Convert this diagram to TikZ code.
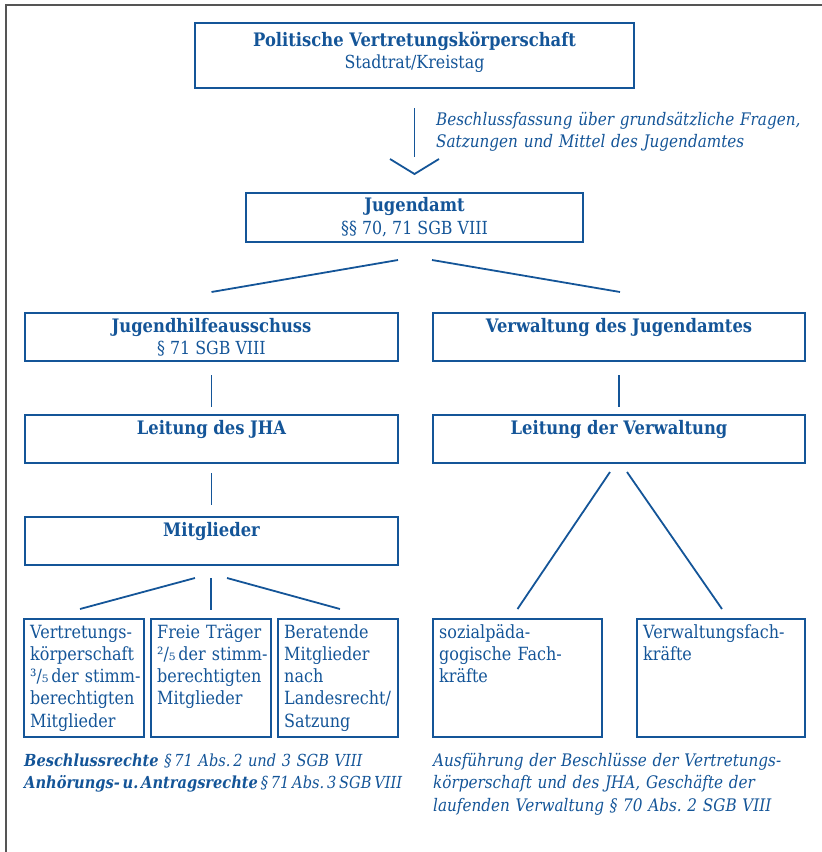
\documentclass[tikz,border=0pt]{standalone}
\usepackage{fontspec}
\setmainfont{DejaVu Serif}[FakeStretch=0.88]
\definecolor{jblue}{RGB}{20,85,152}
\definecolor{framegray}{RGB}{85,85,85}
\frenchspacing
\begin{document}
\begin{tikzpicture}[x=1pt,y=-1pt,
  box/.style={draw=jblue, line width=1.8pt, inner sep=0pt, outer sep=0pt},
  conn/.style={draw=jblue, line width=1.8pt},
  txt/.style={text=jblue, inner sep=0pt},
  ttl/.style={txt, font=\bfseries\fontsize{18.6}{22}\selectfont, anchor=base},
  sub/.style={txt, font=\fontsize{18}{22}\selectfont, anchor=base},
  small/.style={txt, font=\fontsize{18.2}{22.3}\selectfont, anchor=base west, align=left, text width=160pt},
  ann/.style={txt, font=\itshape\fontsize{17.3}{22.6}\selectfont, anchor=base west, align=left, text width=400pt},
  annl/.style={txt, font=\itshape\fontsize{16.6}{22}\selectfont, anchor=base west, align=left, text width=400pt}
]
\useasboundingbox (0,0) rectangle (822,852);
% frame
\draw[framegray, line width=1.6pt] (822,5) -- (6,5) -- (6,852);

% boxes
\node[box, minimum width=439pt, minimum height=65pt] (pol) at (414.5,55.5) {};
\node[box, minimum width=337pt, minimum height=49pt] (ja) at (414.5,217.5) {};
\node[box, minimum width=373pt, minimum height=48pt] (jha) at (211.5,337) {};
\node[box, minimum width=372pt, minimum height=48pt] (vw) at (619,337) {};
\node[box, minimum width=373pt, minimum height=48pt] (ljha) at (211.5,439) {};
\node[box, minimum width=372pt, minimum height=48pt] (lvw) at (619,439) {};
\node[box, minimum width=373pt, minimum height=48pt] (mit) at (211.5,541) {};
\node[box, minimum width=120pt, minimum height=118pt] (s1) at (84,678) {};
\node[box, minimum width=120pt, minimum height=118pt] (s2) at (211,678) {};
\node[box, minimum width=120pt, minimum height=118pt] (s3) at (338,678) {};
\node[box, minimum width=169pt, minimum height=118pt] (s4) at (517.5,678) {};
\node[box, minimum width=168pt, minimum height=118pt] (s5) at (721,678) {};

% box texts
\node[ttl] (polA) at (414.5,46) {Politische Vertretungskörperschaft};
\node[sub] (polB) at (414.5,68) {Stadtrat/Kreistag};
\node[ttl] (jaA) at (414.5,211) {Jugendamt};
\node[sub] (jaB) at (414.5,234) {§§ 70, 71 SGB VIII};
\node[ttl] (jhaA) at (211.5,332) {Jugendhilfeausschuss};
\node[sub] (jhaB) at (211.5,354) {§ 71 SGB VIII};
\node[ttl] (vwA) at (619,332) {Verwaltung des Jugendamtes};
\node[ttl] (ljhaA) at (211.5,434) {Leitung des JHA};
\node[ttl] (lvwA) at (619,434) {Leitung der Verwaltung};
\node[ttl] (mitA) at (211.5,536) {Mitglieder};

\node[small] (s1t) at (30,638) {Vertretungs-\\körperschaft\\³/₅\,der stimm-\\berechtigten\\Mitglieder};
\node[small] (s2t) at (157,638) {Freie Träger\\²/₅\,der stimm-\\berechtigten\\Mitglieder};
\node[small] (s3t) at (284,638) {Beratende\\Mitglieder\\nach\\Landesrecht/\\Satzung};
\node[small] (s4t) at (439,638) {sozialpäda-\\gogische Fach-\\kräfte};
\node[small] (s5t) at (643,638) {Verwaltungsfach-\\kräfte};

% annotations
\node[ann] (annA) at (436,125) {Beschlussfassung über grundsätzliche Fragen,\\Satzungen und Mittel des Jugendamtes};
\node[annl] (annL) at (24,766) {\textbf{Beschlussrechte} §\,71 Abs.\,2 und 3 SGB VIII\\\textbf{Anhörungs-\,u.\,Antragsrechte}\,§\,71\,Abs.\,3\,SGB\,VIII};
\node[ann] (annR) at (433,766) {Ausführung der Beschlüsse der Vertretungs-\\körperschaft und des JHA, Geschäfte der\\laufenden Verwaltung § 70 Abs. 2 SGB VIII};

% connectors
\draw[conn] ([yshift=-20pt]pol.south) -- ([yshift=36pt]ja.north);
\draw[conn] ([xshift=-24.5pt,yshift=34pt]ja.north) -- ([yshift=19pt]ja.north) -- ([xshift=24.5pt,yshift=34pt]ja.north);

\draw[conn] ([xshift=-16.5pt,yshift=-18pt]ja.south) -- ([yshift=21pt]jha.north);
\draw[conn] ([xshift=17.5pt,yshift=-18pt]ja.south) -- ([xshift=1pt,yshift=21pt]vw.north);

\draw[conn] ([yshift=-14pt]jha.south) -- ([yshift=8pt]ljha.north);
\draw[conn] ([yshift=-14pt]vw.south) -- ([yshift=8pt]lvw.north);
\draw[conn] ([yshift=-10pt]ljha.south) -- ([yshift=12pt]mit.north);

\draw[conn] ([xshift=-16.5pt,yshift=-13pt]mit.south) -- ([xshift=-4pt,yshift=10pt]s1.north);
\draw[conn] ([xshift=-0.5pt,yshift=-13pt]mit.south) -- ([yshift=9pt]s2.north);
\draw[conn] ([xshift=15.5pt,yshift=-13pt]mit.south) -- ([xshift=2pt,yshift=10pt]s3.north);

\draw[conn] ([xshift=-9pt,yshift=-9pt]lvw.south) -- ([yshift=10pt]s4.north);
\draw[conn] ([xshift=8pt,yshift=-9pt]lvw.south) -- ([xshift=1pt,yshift=10pt]s5.north);
\end{tikzpicture}
\end{document}
